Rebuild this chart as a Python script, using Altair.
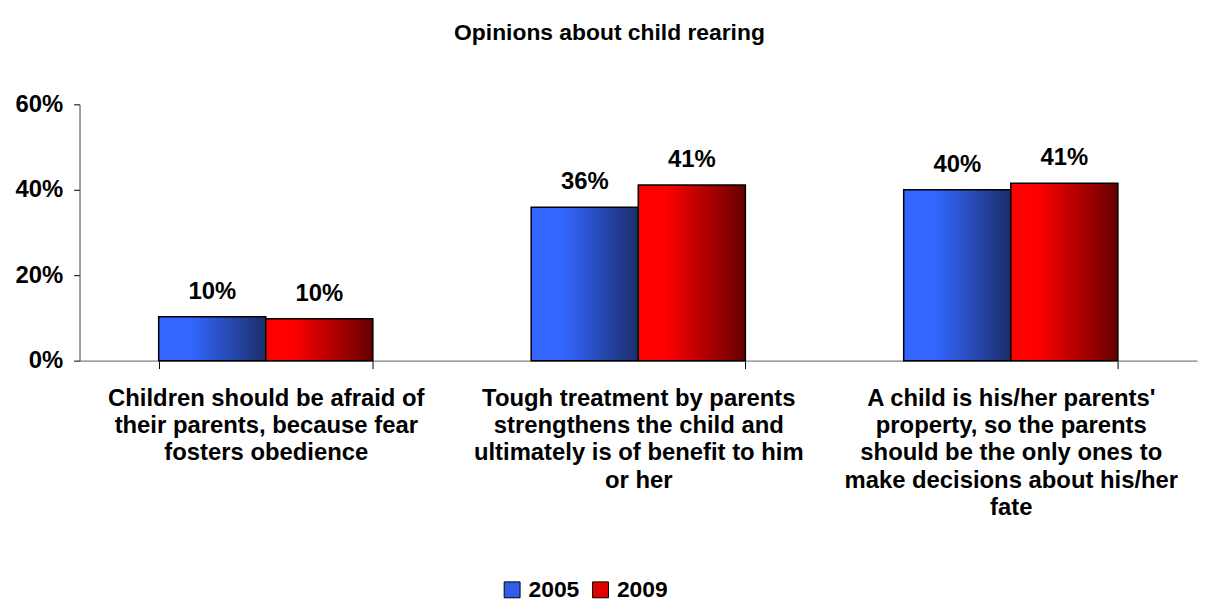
import altair as alt
import pandas as pd

FONT = "Liberation Sans"

categories = [
    "Children should be afraid of|their parents, because fear|fosters obedience",
    "Tough treatment by parents|strengthens the child and|ultimately is of benefit to him|or her",
    "A child is his/her parents'|property, so the parents|should be the only ones to|make decisions about his/her|fate",
]
years = ["2005", "2009"]
values_2005 = [10.3, 35.9, 40.0]
values_2009 = [9.8, 41.1, 41.5]
labels_2005 = ["10%", "36%", "40%"]
labels_2009 = ["10%", "41%", "41%"]
y_ticks = [0, 20, 40, 60]

rows = []
for c, v, l in zip(categories, values_2005, labels_2005):
    rows.append({"category": c, "year": "2005", "value": v, "label": l})
for c, v, l in zip(categories, values_2009, labels_2009):
    rows.append({"category": c, "year": "2009", "value": v, "label": l})
df = pd.DataFrame(rows)

blue_grad = alt.LinearGradient(
    gradient="linear",
    stops=[
        alt.GradientStop(color="#3366FF", offset=0),
        alt.GradientStop(color="#3366FF", offset=0.3),
        alt.GradientStop(color="#1B2E6A", offset=1),
    ],
    x1=0, x2=1, y1=0, y2=0,
)
red_grad = alt.LinearGradient(
    gradient="linear",
    stops=[
        alt.GradientStop(color="#FF0000", offset=0),
        alt.GradientStop(color="#FF0000", offset=0.25),
        alt.GradientStop(color="#650000", offset=1),
    ],
    x1=0, x2=1, y1=0, y2=0,
)

x_enc = alt.X(
    "category:N",
    sort=categories,
    scale=alt.Scale(paddingInner=0.425, paddingOuter=0.2125),
    axis=alt.Axis(
        title=None,
        labelAngle=0,
        labelExpr="split(datum.label, '|')",
        labelFont=FONT,
        labelFontSize=24,
        labelFontWeight="bold",
        labelColor="black",
        labelLineHeight=27.5,
        labelLimit=1000,
        labelPadding=18,
        tickBand="extent",
        tickSize=8,
        tickColor="black",
        domainColor="#808080",
        domainWidth=1.5,
    ),
)
xoff_enc = alt.XOffset("year:N", scale=alt.Scale(domain=years, paddingInner=0, paddingOuter=0))
y_enc = alt.Y(
    "value:Q",
    scale=alt.Scale(domain=[0, 60]),
    axis=alt.Axis(
        values=y_ticks,
        labelExpr="datum.value + '%'",
        title=None,
        grid=False,
        tickSize=6,
        tickColor="black",
        domainColor="#404040",
        labelFont=FONT,
        labelFontSize=24,
        labelFontWeight="bold",
        labelColor="black",
        labelPadding=11,
    ),
)

base = alt.Chart(df).encode(x=x_enc, xOffset=xoff_enc, y=y_enc)

bars_2005 = base.mark_bar(stroke="black", strokeWidth=1.5, fill=blue_grad).transform_filter(
    alt.datum.year == "2005"
)
bars_2009 = base.mark_bar(stroke="black", strokeWidth=1.5, fill=red_grad).transform_filter(
    alt.datum.year == "2009"
)

text = base.mark_text(
    baseline="alphabetic", dy=-18, fontSize=24, fontWeight="bold", font=FONT, color="black"
).encode(text="label:N")

legend_layer = (
    alt.Chart(df)
    .mark_square(size=0, opacity=0)
    .encode(
        color=alt.Color(
            "year:N",
            scale=alt.Scale(domain=years, range=["#2F5FE8", "#E00000"]),
            legend=alt.Legend(
                title=None,
                orient="none",
                legendX=424,
                legendY=477,
                direction="horizontal",
                symbolType="square",
                symbolSize=256,
                symbolStrokeColor="black",
                symbolStrokeWidth=1,
                symbolOpacity=1,
                labelFont=FONT,
                labelFontSize=23,
                labelFontWeight="bold",
                labelColor="black",
                labelOffset=5,
                columnPadding=9,
            ),
        ),
    )
)

chart = (
    alt.layer(bars_2005, bars_2009, text, legend_layer)
    .properties(
        width=1125,
        height=258,
        padding={"left": 72, "top": 95, "right": 6, "bottom": 242},
        autosize="none",
        title=alt.Title(
            "Opinions about child rearing",
            font=FONT,
            fontSize=23,
            fontWeight="bold",
            color="black",
            anchor="middle",
            frame="group",
            dx=-29,
            offset=48,
        ),
    )
    .configure_view(stroke=None)
)

chart.save("out.html", embed_options={"renderer": "svg", "actions": False})
